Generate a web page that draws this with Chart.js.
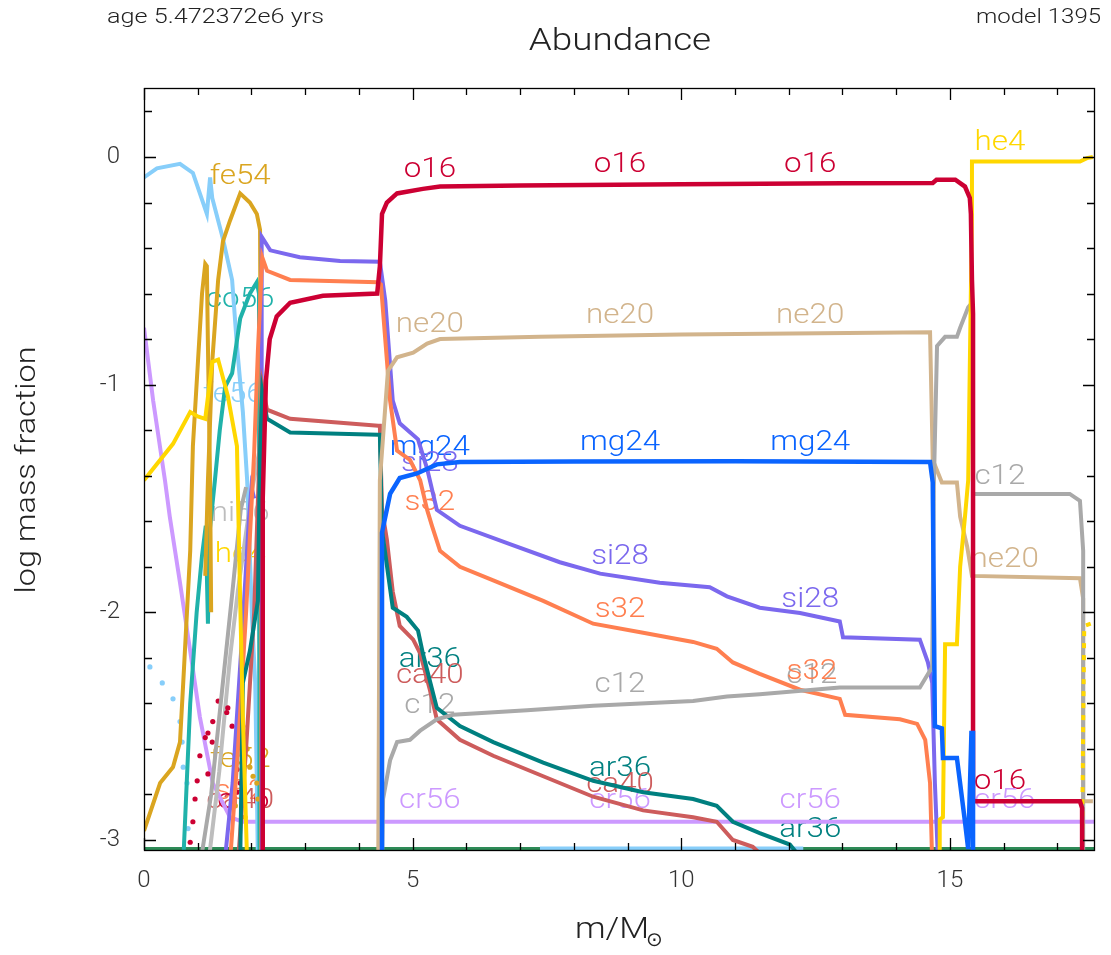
<!DOCTYPE html>
<html>
<head>
<meta charset="utf-8">
<title>Abundance</title>
<script src="https://cdn.jsdelivr.net/npm/chart.js@4.4.1/dist/chart.umd.min.js"></script>
<style>
  html, body { margin: 0; padding: 0; background: #fff; }
  canvas { display: block; }
</style>
</head>
<body>
<canvas id="abund" width="1111" height="955"></canvas>
<script>
// log mass fraction profiles vs mass coordinate, model 1395
const xTicks = [0, 5, 10, 15];
const yTicks = [0, -1, -2, -3];
const xRange = [0, 17.7];
const yRange = [-3.044, 0.303];

// [m/Msun, log X]; [m, null] breaks a line
const o16 = [[2.21,-3.1],[2.21,-1.5],[2.27,-0.98],[2.34,-0.80],[2.47,-0.70],[2.72,-0.64],[3.33,-0.61],[4.34,-0.60],
  [4.39,-0.48],[4.43,-0.25],[4.52,-0.20],[4.71,-0.16],[5.19,-0.14],[5.51,-0.13],[7.0,-0.125],[10.0,-0.12],[13.0,-0.115],
  [14.68,-0.114],[14.75,-0.10],[15.1,-0.10],[15.28,-0.13],[15.37,-0.18],[15.39,-0.25],[15.41,-0.54],[15.43,-0.69],
  [15.43,-2.83],[17.42,-2.83],[17.46,-2.86],[17.46,-3.1]];
const o16Dots = [[1.38,-2.39],[1.56,-2.42],[1.54,-2.44],[1.28,-2.48],[1.64,-2.50],[1.14,-2.55],[1.19,-2.53],[1.27,-2.57],
  [1.04,-2.63],[1.19,-2.71],[0.99,-2.74],[0.95,-2.82],[0.91,-2.92],[0.86,-3.01],[1.73,-2.79],[1.73,-2.69],[1.79,-2.75]];
const mg24 = [[4.39,-3.1],[4.43,-3.1],[4.43,-1.65],[4.58,-1.48],[4.76,-1.41],[5.08,-1.39],[5.45,-1.35],[5.88,-1.34],
  [8.0,-1.338],[11.0,-1.336],[14.63,-1.34],[14.68,-1.43],[14.72,-2.50],[14.85,-2.51],[14.87,-2.64],[15.13,-2.64],
  [15.28,-2.92],[15.34,-3.04],[15.40,-2.53],[15.43,-2.53],[15.43,-3.1]];
const he4 = [[0.0,-1.42],[0.54,-1.26],[0.86,-1.12],[1.00,-1.14],[1.14,-1.15],[1.27,-0.90],[1.38,-0.89],[1.56,-1.05],
  [1.73,-1.27],[1.79,-1.95],[1.84,-2.46],[1.92,-3.1],[1.92,null],
  [14.81,-3.1],[14.81,-2.91],[14.87,-2.90],[14.91,-2.14],[15.13,-2.14],[15.19,-1.80],[15.28,-1.58],[15.34,-1.42],
  [15.41,-0.25],[15.41,-0.02],[17.42,-0.02],[17.55,-0.005],[17.66,0.0]];
const he4Tail = [[17.62,-2.05],[17.50,-2.06],[17.48,-2.5],[17.46,-3.0]];
const c12 = [[1.05,-3.1],[1.25,-2.8],[1.45,-2.35],[1.65,-1.9],[1.8,-1.55],[1.9,-1.45],[1.9,null],
  [4.43,-3.1],[4.45,-2.82],[4.58,-2.65],[4.71,-2.57],[4.95,-2.56],[5.14,-2.52],[5.45,-2.47],[5.75,-2.45],[7.13,-2.43],
  [8.36,-2.41],[10.22,-2.39],[10.85,-2.37],[11.46,-2.36],[12.95,-2.33],[14.44,-2.33],[14.67,-2.24],[14.70,-1.45],
  [14.76,-0.83],[14.91,-0.79],[15.13,-0.79],[15.19,-0.75],[15.34,-0.66],[15.41,-0.64],[15.43,-1.48],[17.23,-1.48],
  [17.42,-1.51],[17.48,-1.73],[17.48,-3.1]];
const ne20 = [[4.36,-3.1],[4.39,-1.42],[4.54,-0.94],[4.71,-0.88],[5.01,-0.86],[5.27,-0.82],[5.51,-0.80],[7.37,-0.79],
  [10.0,-0.78],[14.63,-0.77],[14.68,-1.33],[14.85,-1.43],[15.13,-1.43],[15.19,-1.58],[15.32,-1.71],[15.41,-1.84],
  [17.42,-1.85],[17.48,-1.94],[17.48,-2.83],[17.66,-2.83]];
const si28 = [[1.5,-3.1],[1.65,-2.75],[1.8,-2.2],[1.95,-1.6],[2.0,-1.45],[2.05,-1.5],[2.05,null],
  [2.19,-3.1],[2.19,-0.35],[2.35,-0.41],[2.9,-0.44],[3.65,-0.457],[4.39,-0.46],[4.49,-0.63],[4.63,-1.07],[4.76,-1.17],
  [5.10,-1.24],[5.27,-1.37],[5.45,-1.55],[5.88,-1.62],[6.81,-1.70],[7.74,-1.78],[8.49,-1.83],[9.60,-1.87],[10.53,-1.89],
  [10.85,-1.93],[11.46,-1.98],[12.21,-2.003],[12.95,-2.04],[13.01,-2.11],[14.44,-2.12],[14.59,-2.22],[14.67,-2.31],
  [14.72,-2.75],[14.78,-3.1]];
const s32 = [[1.6,-3.1],[1.75,-2.6],[1.9,-2.0],[2.05,-1.3],[2.12,-0.85],[2.17,-0.6],[2.2,-0.44],[2.29,-0.50],[2.72,-0.54],
  [4.36,-0.55],[4.41,-0.56],[4.54,-0.95],[4.58,-1.07],[4.71,-1.29],[4.95,-1.33],[5.14,-1.42],[5.27,-1.55],[5.36,-1.62],
  [5.51,-1.73],[5.88,-1.80],[6.50,-1.86],[7.43,-1.95],[8.36,-2.05],[9.29,-2.09],[10.22,-2.13],[10.66,-2.16],[10.96,-2.22],
  [11.46,-2.27],[12.21,-2.34],[12.95,-2.38],[13.05,-2.45],[14.07,-2.47],[14.39,-2.49],[14.54,-2.56],[14.63,-2.75],[14.67,-3.1]];
const ca40 = [[1.75,-3.1],[1.9,-2.6],[2.05,-2.0],[2.15,-1.3],[2.2,-1.0],[2.29,-1.11],[2.72,-1.15],[4.36,-1.18],[4.39,-1.18],
  [4.43,-1.55],[4.52,-1.68],[4.63,-1.91],[4.76,-2.06],[5.01,-2.12],[5.14,-2.18],[5.32,-2.34],[5.45,-2.47],[5.88,-2.56],
  [6.50,-2.63],[7.43,-2.72],[8.36,-2.81],[9.29,-2.87],[10.22,-2.90],[10.66,-2.92],[10.96,-3.0],[11.33,-3.03],[11.65,-3.1]];
const ar36 = [[1.79,-3.1],[1.84,-2.31],[1.97,-2.17],[2.12,-1.95],[2.16,-1.29],[2.2,-1.03],[2.29,-1.15],[2.72,-1.21],
  [4.36,-1.22],[4.39,-1.22],[4.43,-1.64],[4.63,-1.98],[4.89,-2.02],[5.10,-2.08],[5.19,-2.18],[5.45,-2.42],[5.88,-2.50],
  [6.50,-2.57],[7.43,-2.66],[8.36,-2.74],[9.29,-2.79],[10.22,-2.82],[10.66,-2.85],[10.96,-2.92],[11.46,-2.97],
  [12.02,-3.02],[12.30,-3.1]];
const fe54 = [[1.14,-1.84],[1.19,-1.42],[1.27,-0.90],[1.38,-0.54],[1.47,-0.37],[1.60,-0.28],[1.79,-0.16],[1.97,-0.20],
  [2.10,-0.25],[2.16,-0.32],[2.18,-1.4],[2.18,-3.1]];
const fe52 = [[0.0,-2.96],[0.30,-2.75],[0.54,-2.68],[0.67,-2.57],[0.73,-2.31],[0.86,-1.73],[0.91,-1.27],[1.08,-0.60],
  [1.14,-0.47],[1.17,-0.48],[1.19,-0.83],[1.23,-1.42],[1.25,-2.0]];
const fe52Dots = [[1.84,-2.50],[1.79,-2.56],[1.92,-2.60],[1.97,-2.68],[2.03,-2.72],[2.10,-2.75],[2.12,-2.82],[1.70,-2.85],[1.88,-2.9]];
const fe56 = [[0.0,-0.09],[0.24,-0.05],[0.67,-0.03],[0.91,-0.07],[1.17,-0.25],[1.23,-0.09],[1.27,-0.18],[1.47,-0.36],
  [1.64,-0.54],[1.73,-0.83],[1.84,-1.12],[1.92,-1.42],[2.01,-2.02],[2.07,-2.31],[2.10,-2.75],[2.12,-3.1],[2.12,null],
  [7.37,-3.037],[12.27,-3.037]];
const fe56Dots = [[0.11,-2.24],[0.34,-2.31],[0.54,-2.38],[0.67,-2.48],[0.71,-2.57],[0.73,-2.68],[0.80,-2.75],[0.82,-2.95]];
const co56 = [[0.73,-3.1],[0.86,-2.4],[0.98,-2.0],[1.08,-1.75],[1.15,-1.62],[1.19,-2.05],[1.22,-1.65],[1.32,-1.42],
  [1.41,-1.2],[1.51,-1.01],[1.64,-0.95],[1.79,-0.71],[1.97,-0.6],[2.1,-0.55],[2.14,-0.6],[2.15,-3.1]];
const cr56 = [[0.0,-0.75],[0.17,-1.07],[0.39,-1.42],[0.48,-1.58],[0.67,-1.87],[0.86,-2.17],[1.04,-2.46],[1.28,-2.75],
  [1.60,-2.90],[1.84,-2.92],[17.7,-2.92]];
const ni56 = [[1.2,-3.1],[1.4,-2.7],[1.6,-2.2],[1.75,-1.9],[1.9,-1.65],[2.02,-1.45],[2.1,-1.35],[2.14,-1.3],[2.16,-3.1]];
const floor = [[0,-3.037],[17.7,-3.037]];

const colors = {
  o16: '#cc0033', mg24: '#0a64ff', he4: '#ffd700', c12: '#a9a9a9', ne20: '#d2b48c', si28: '#7b68ee',
  s32: '#ff7f50', ca40: '#cd5c5c', ar36: '#008080', fe54: '#daa520', fe52: '#daa520', fe56: '#87cefa',
  co56: '#20b2aa', cr56: '#cc99ff', ni56: '#bdbdbd', floor: '#2e8b57'
};

// curve labels: [name, m, logX] (centre of text)
const curveLabels = [
  ['fe54',1.79,-0.09],['co56',1.79,-0.63],['fe56',1.66,-1.045],['ni56',1.79,-1.57],['he4',1.79,-1.75],
  ['fe52',1.79,-2.65],['s32',1.79,-2.79],['ca40',1.79,-2.83],['o16',1.85,-2.83],
  ['o16',5.32,-0.057],['o16',8.86,-0.035],['o16',12.40,-0.035],['o16',15.93,-2.745],['he4',15.93,0.061],
  ['ne20',5.32,-0.74],['ne20',8.86,-0.70],['ne20',12.40,-0.70],['ne20',16.02,-1.77],
  ['mg24',5.32,-1.28],['mg24',8.86,-1.256],['mg24',12.40,-1.256],
  ['si28',5.32,-1.35],['si28',8.86,-1.757],['si28',12.40,-1.946],
  ['s32',5.32,-1.52],['s32',8.86,-1.99],
  ['c12',15.93,-1.405],['c12',5.32,-2.41],['c12',8.86,-2.32],['c12',12.43,-2.28],['s32',12.43,-2.26],
  ['ar36',5.32,-2.21],['ar36',8.86,-2.69],['ar36',12.40,-2.955],
  ['ca40',5.32,-2.28],['ca40',8.86,-2.76],
  ['cr56',5.32,-2.83],['cr56',8.86,-2.83],['cr56',12.40,-2.83],['cr56',16.02,-2.83]
];

const FONT = 'Roboto, "DejaVu Sans", sans-serif';
const INK = '#222';

function pts(arr) {
  return arr.map(p => ({ x: p[0], y: p[1] }));
}
function line(arr, color, width, extra) {
  return Object.assign({
    data: pts(arr), borderColor: color, backgroundColor: color, borderWidth: width || 4,
    pointRadius: 0, tension: 0, fill: false, spanGaps: false
  }, extra || {});
}
function dots(arr, color) {
  return {
    data: pts(arr), showLine: false, pointRadius: 2.6, pointBorderWidth: 0,
    pointBackgroundColor: color, borderColor: color, backgroundColor: color
  };
}

// first dataset ends up on top
const datasets = [
  line(mg24, colors.mg24, 4.5),
  line(o16, colors.o16, 4.5),
  line(he4, colors.he4, 4),
  line(he4Tail, colors.he4, 4, { borderDash: [5, 7] }),
  line(c12, colors.c12, 4),
  line(ne20, colors.ne20, 4),
  line(ar36, colors.ar36, 4),
  line(ca40, colors.ca40, 4),
  line(s32, colors.s32, 4),
  line(si28, colors.si28, 4),
  line(fe54, colors.fe54, 4),
  line(fe52, colors.fe52, 4),
  dots(fe52Dots, colors.fe52),
  dots(o16Dots, colors.o16),
  line(co56, colors.co56, 4),
  line(ni56, colors.ni56, 4),
  line(fe56, colors.fe56, 4),
  dots(fe56Dots, colors.fe56),
  line(cr56, colors.cr56, 4),
  line(floor, colors.floor, 3)
];

function stretchText(ctx, str, x, y, align, sx) {
  const w = ctx.measureText(str).width * sx;
  let x0 = x;
  if (align === 'center') x0 = x - w / 2;
  else if (align === 'right') x0 = x - w;
  ctx.save();
  ctx.translate(x0, y);
  ctx.scale(sx, 1);
  ctx.textAlign = 'left';
  ctx.fillText(str, 0, 0);
  ctx.restore();
}

const decor = {
  id: 'decor',
  beforeDatasetsDraw(chart) {
    const { ctx, scales: { x, y } } = chart;
    ctx.save();
    ctx.font = '300 28px ' + FONT;
    ctx.textBaseline = 'middle';
    curveLabels.forEach(([name, m, v]) => {
      ctx.fillStyle = colors[name];
      stretchText(ctx, name, x.getPixelForValue(m), y.getPixelForValue(v), 'center', 1.12);
    });
    ctx.restore();
  },
  afterDatasetsDraw(chart) {
    const { ctx, chartArea: a, scales: { x, y } } = chart;
    ctx.save();
    ctx.strokeStyle = '#000';
    ctx.lineWidth = 1.3;
    ctx.beginPath();
    for (let m = 0; m <= 17; m++) {
      const px = Math.round(x.getPixelForValue(m)) + 0.5;
      const len = m % 5 === 0 ? 12 : 7;
      ctx.moveTo(px, a.bottom); ctx.lineTo(px, a.bottom - len);
      ctx.moveTo(px, a.top); ctx.lineTo(px, a.top + len);
    }
    for (let i = -15; i <= 1; i++) {
      const py = Math.round(y.getPixelForValue(i * 0.2)) + 0.5;
      const len = i % 5 === 0 ? 12 : 8;
      ctx.moveTo(a.left, py); ctx.lineTo(a.left + len, py);
      ctx.moveTo(a.right, py); ctx.lineTo(a.right - len, py);
    }
    ctx.stroke();
    ctx.strokeRect(a.left + 0.5, a.top + 0.5, a.right - a.left - 1, a.bottom - a.top);
    ctx.restore();
  },
  afterDraw(chart) {
    const { ctx } = chart;
    ctx.save();
    ctx.fillStyle = INK;
    ctx.textBaseline = 'middle';
    ctx.font = '300 20px ' + FONT;
    stretchText(ctx, 'age 5.472372e6 yrs', 107, 18, 'left', 1.26);
    stretchText(ctx, 'model 1395', 1101, 18, 'right', 1.2);
    ctx.font = '300 32px ' + FONT;
    stretchText(ctx, 'Abundance', 620, 42, 'center', 1.15);
    ctx.font = '300 30px ' + FONT;
    stretchText(ctx, 'm/M', 612, 930, 'center', 1.15);
    ctx.font = '300 20px ' + FONT;
    ctx.textAlign = 'left';
    ctx.fillText('\u2299', 646, 941);
    ctx.translate(28, 470);
    ctx.rotate(-Math.PI / 2);
    ctx.font = '300 27px ' + FONT;
    stretchText(ctx, 'log mass fraction', 0, 0, 'center', 1.2);
    ctx.restore();
  }
};

const tickFont = { family: FONT, size: 24, weight: '300' };

new Chart(document.getElementById('abund'), {
  type: 'line',
  data: { datasets },
  options: {
    responsive: false,
    animation: false,
    devicePixelRatio: 1,
    layout: { padding: { top: 88, right: 16, left: 0, bottom: 0 } },
    plugins: { legend: { display: false }, tooltip: { enabled: false } },
    scales: {
      x: {
        type: 'linear', min: xRange[0], max: xRange[1],
        grid: { display: false }, border: { display: false },
        afterBuildTicks: s => { s.ticks = xTicks.map(v => ({ value: v })); },
        afterFit: s => { s.height = 105; },
        ticks: { color: '#333', font: tickFont, padding: 9, maxRotation: 0, autoSkip: false }
      },
      y: {
        type: 'linear', min: yRange[0], max: yRange[1],
        grid: { display: false }, border: { display: false },
        afterBuildTicks: s => { s.ticks = yTicks.map(v => ({ value: v })); },
        afterFit: s => { s.width = 144; },
        ticks: { color: '#333', font: tickFont, padding: 16, autoSkip: false, callback: v => String(v) }
      }
    }
  },
  plugins: [decor]
});
</script>
</body>
</html>
